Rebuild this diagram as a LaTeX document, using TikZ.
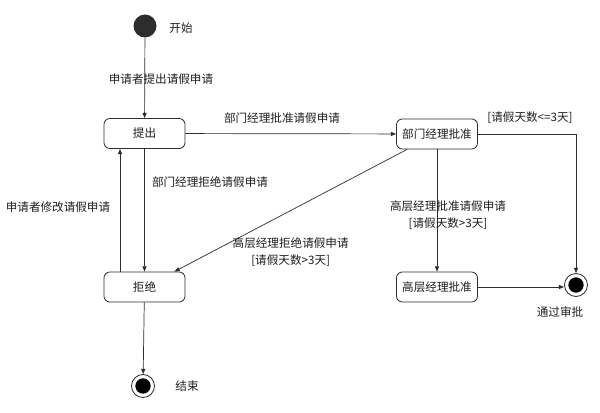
\documentclass[tikz,border=0pt]{standalone}
\usepackage{fontspec}
\setmainfont{Noto Sans CJK SC}
\usetikzlibrary{arrows.meta,positioning,calc}
\definecolor{linegray}{RGB}{45,45,45}
\definecolor{textgray}{RGB}{30,30,30}

\begin{document}
\begin{tikzpicture}[
    font=\fontsize{9.9}{14}\selectfont,
    stbox/.style={rectangle, draw=linegray, line width=0.7pt, rounded corners=5pt,
        minimum width=2.43cm, minimum height=0.9cm, text=textgray},
    startdot/.style={circle, fill=linegray, minimum size=0.69cm, inner sep=0pt},
    enddot/.style={circle, draw=linegray, line width=0.7pt, minimum size=0.69cm, inner sep=0pt,
        path picture={\fill[black] (path picture bounding box.center) circle (0.23cm);}},
    lbl/.style={text=textgray, inner sep=1pt, align=center},
    arr/.style={-{Triangle[length=4.5pt,width=3.5pt]}, line width=0.6pt, linegray}
]
    \useasboundingbox (0,0) rectangle (18,-12.39);

    % States
    \node[startdot] (start) at (4.35,-0.78) {};
    \node[lbl] (startlbl) at (5.43,-0.84) {开始};
    \node[stbox] (submit) at (4.335,-4.005) {提出};
    \node[stbox] (deptok) at (13.11,-4.02) {部门经理批准};
    \node[stbox] (reject) at (4.335,-8.61) {拒绝};
    \node[stbox] (topok) at (13.11,-8.61) {高层经理批准};

    % Final states
    \node[enddot] (pass) at (17.28,-8.55) {};
    \node[lbl] (passlbl) at (16.8,-9.36) {通过审批};
    \node[enddot] (finish) at (4.29,-11.58) {};
    \node[lbl] (finishlbl) at (5.61,-11.58) {结束};

    % Transitions
    \draw[arr] (start) -- (submit);
    \draw[arr] (submit) -- (deptok);
    \draw[arr] (submit) -- (reject);
    \draw[arr] ([xshift=-0.735cm]reject.north) -- ([xshift=-0.735cm]submit.south);
    \draw[arr] ([xshift=0.33cm]deptok.south west) -- ([xshift=-0.33cm]reject.north east);
    \draw[arr] (deptok) -- (topok);
    \draw[arr] (deptok.east) -| (pass.north);
    \draw[arr] (topok.east) -- (pass.west |- topok.east);
    \draw[arr] (reject) -- (finish);

    % Transition labels
    \node[lbl] (l1) at (4.83,-2.37) {申请者提出请假申请};
    \node[lbl] (l2) at (8.46,-3.54) {部门经理批准请假申请};
    \node[lbl] (l3) at (15.9,-3.54) {{[}请假天数<=3天{]}};
    \node[lbl] (l4) at (6.3,-5.46) {部门经理拒绝请假申请};
    \node[lbl] (l5) at (1.74,-6.21) {申请者修改请假申请};
    \node[lbl] (l6) at (13.44,-6.45) {高层经理批准请假申请\\{[}请假天数>3天{]}};
    \node[lbl] (l7) at (8.72,-7.56) {高层经理拒绝请假申请\\{[}请假天数>3天{]}};
\end{tikzpicture}
\end{document}
